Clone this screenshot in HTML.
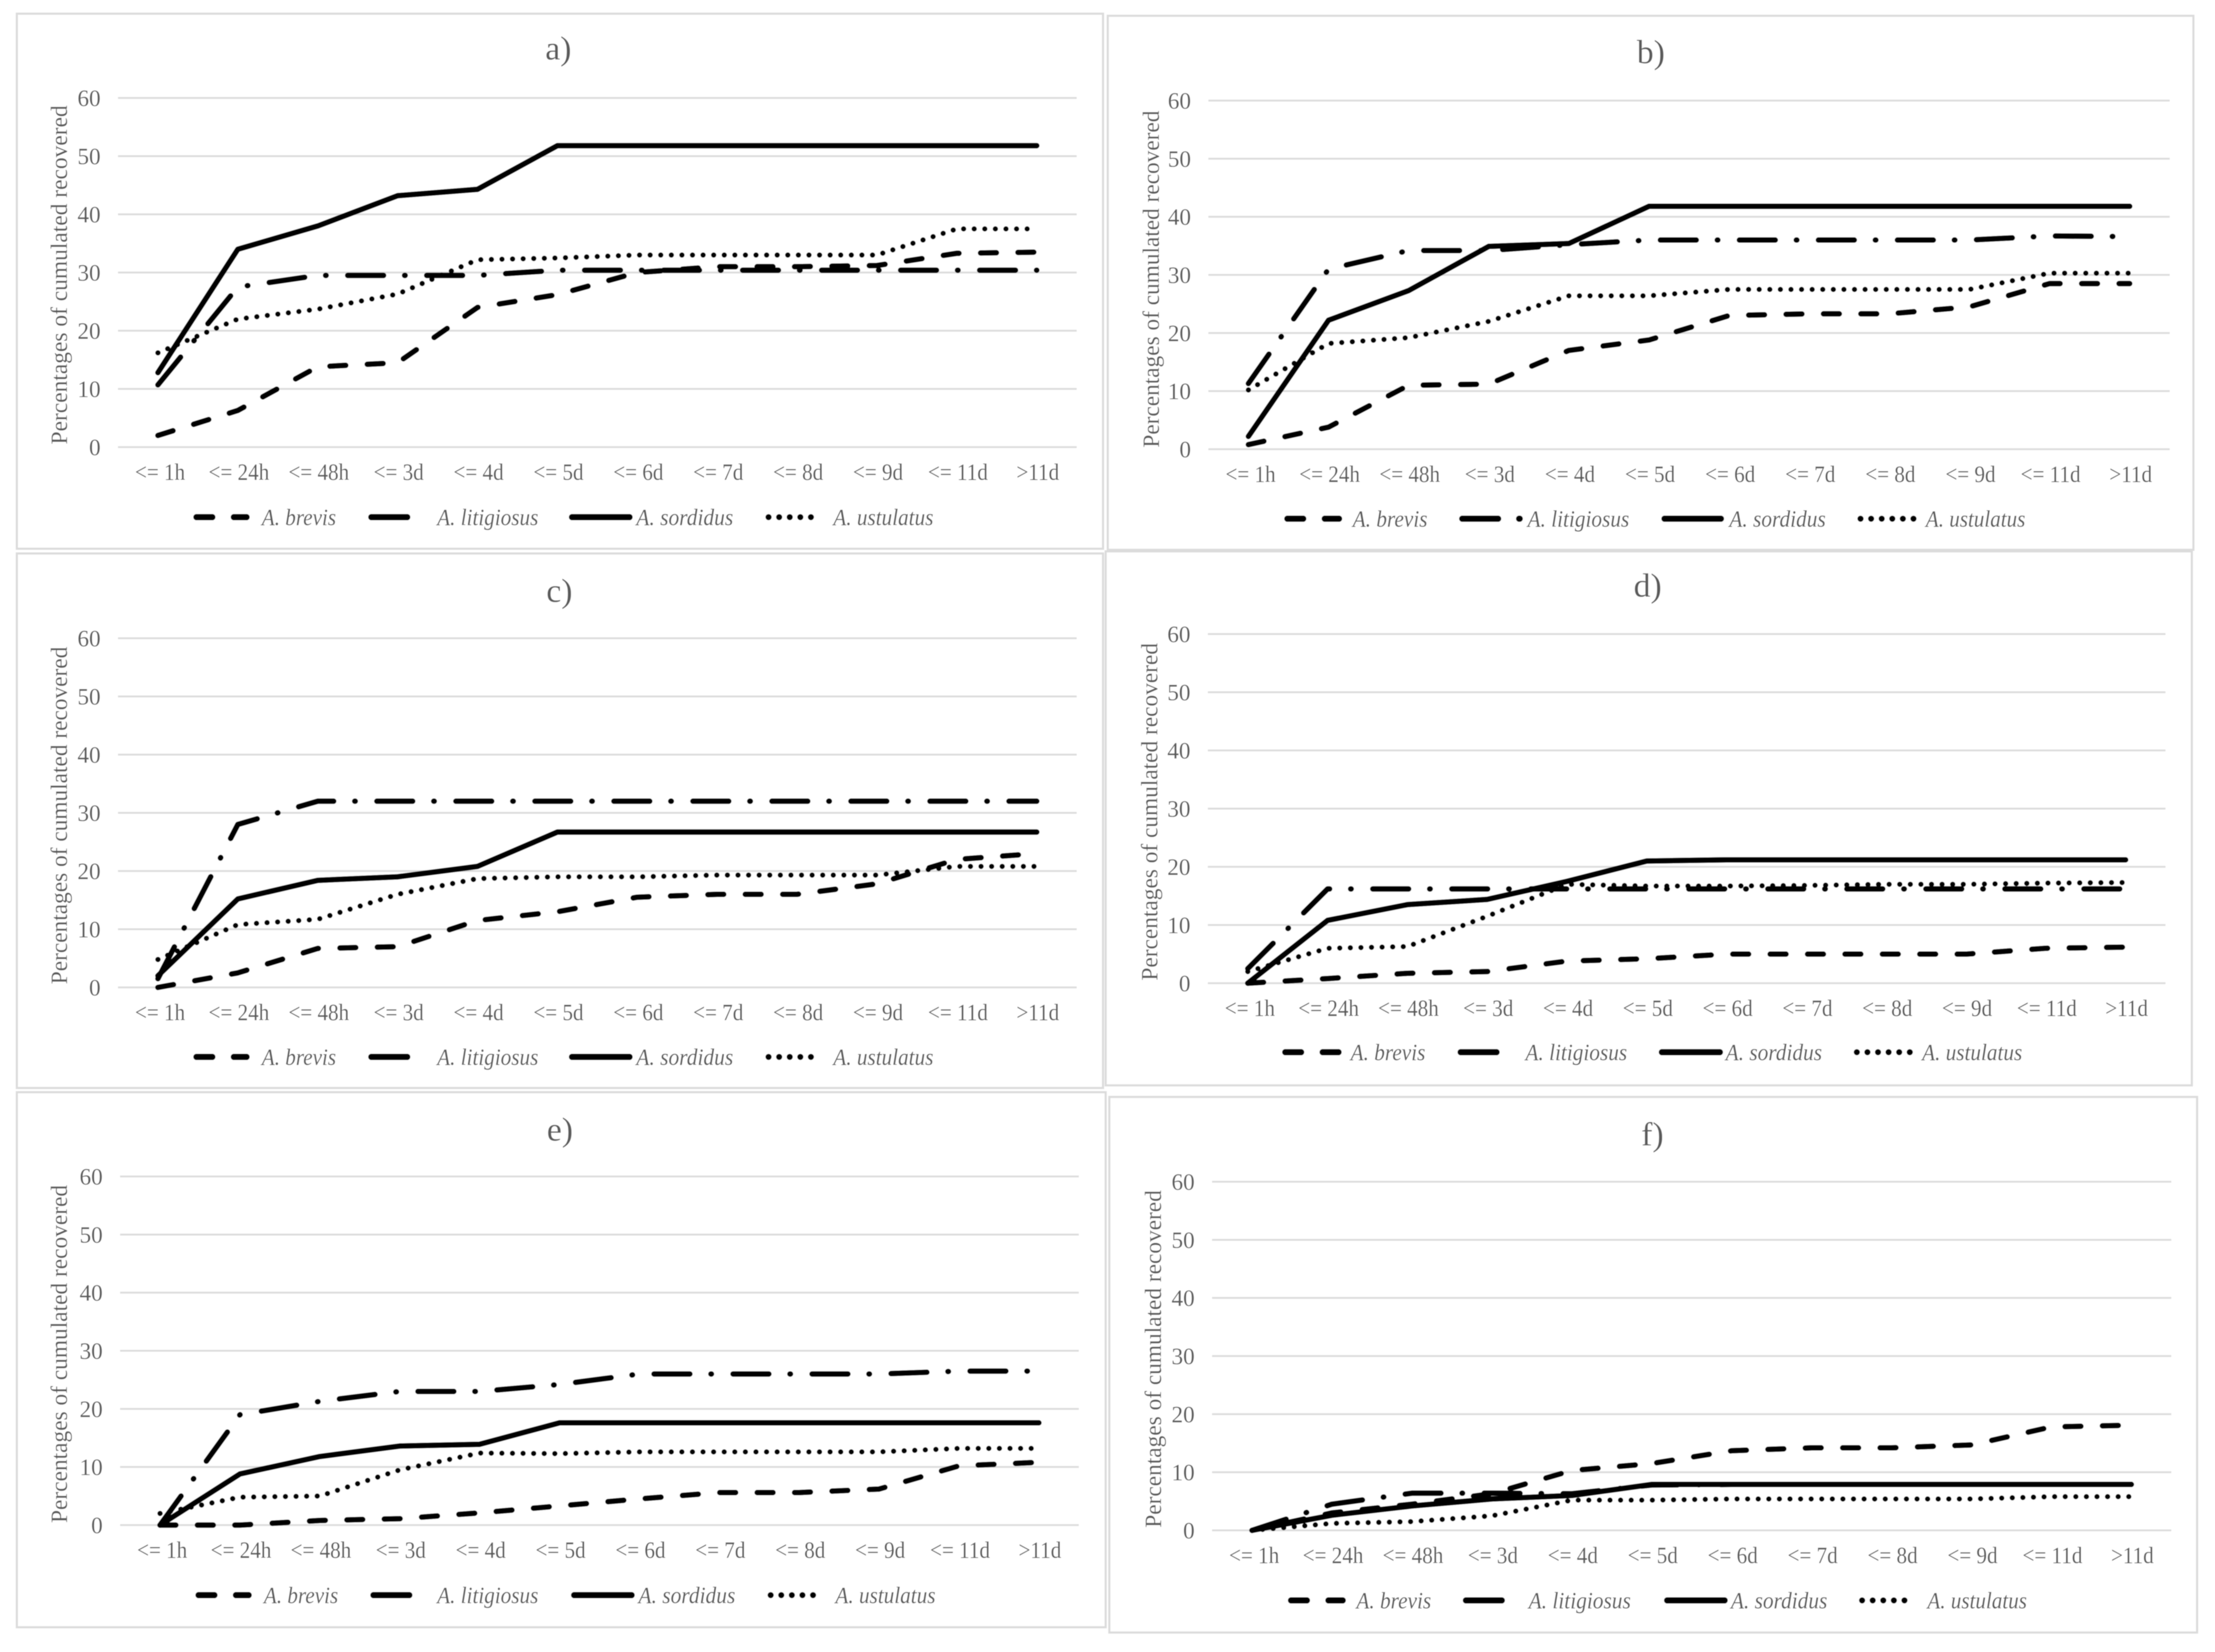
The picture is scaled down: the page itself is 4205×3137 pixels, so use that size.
<!DOCTYPE html>
<html lang="en">
<head>
<meta charset="utf-8">
<title>Percentages of cumulated recovered, panels a to f</title>
<style>
html,body{margin:0;padding:0;background:#fff}
svg{display:block}
text{font-family:"Liberation Serif",serif;fill:#5a5a5a}
</style>
</head>
<body>
<svg id="figure" xmlns="http://www.w3.org/2000/svg" width="4205" height="3137" viewBox="0 0 4205 3137">
<defs><filter id="soft" x="-2%" y="-2%" width="104%" height="104%"><feGaussianBlur stdDeviation="0.8"/></filter></defs>
<rect x="0" y="0" width="4205" height="3137" fill="#fff"/>
</svg>
<script>
// ---- shared chart values ----
const categories = ['<= 1h','<= 24h','<= 48h','<= 3d','<= 4d','<= 5d','<= 6d','<= 7d','<= 8d','<= 9d','<= 11d','>11d'];
const yTicks = [0,10,20,30,40,50,60];
const yAxisTitle = 'Percentages of cumulated recovered';
const speciesNames = ['A. brevis','A. litigiosus','A. sordidus','A. ustulatus'];

// ---- panel a ----
const aBrevis     = [2,6.3,13.8,14.5,24,26.2,30,31,31,31.2,33.3,33.5];
const aLitigiosus = [10.7,27.5,29.5,29.5,29.5,30.4,30.4,30.4,30.4,30.4,30.4,30.4];
const aSordidus   = [12.8,34,38,43.2,44.3,51.8,51.8,51.8,51.8,51.8,51.8,51.8];
const aUstulatus  = [16.2,22,23.7,26.3,32.2,32.5,33,33,33,33,37.5,37.5];
// ---- panel b ----
const bBrevis     = [0.8,3.8,11,11.2,17,18.8,23,23.3,23.3,24.5,28.5,28.5];
const bLitigiosus = [11.3,31,34.2,34.2,35.2,36,36,36,36,36,36.7,36.6];
const bSordidus   = [2.2,22.2,27.3,34.9,35.4,41.8,41.8,41.8,41.8,41.8,41.8,41.8];
const bUstulatus  = [10.2,18.2,19.2,22,26.4,26.4,27.5,27.5,27.5,27.5,30.3,30.3];
// ---- panel c ----
const cBrevis     = [0,2.5,6.7,7,11.5,13,15.5,16,16,17.8,22,23];
const cLitigiosus = [1.5,28,32,32,32,32,32,32,32,32,32,32];
const cSordidus   = [2,15.2,18.4,19,20.8,26.7,26.7,26.7,26.7,26.7,26.7,26.7];
const cUstulatus  = [4.8,10.8,11.7,16,18.7,19,19,19.3,19.3,19.3,20.8,20.8];
// ---- panel d ----
const dBrevis     = [0,0.8,1.7,2,3.8,4.2,5,5,5,5,6,6.2];
const dLitigiosus = [2.5,16.2,16.2,16.2,16.2,16.2,16.2,16.2,16.2,16.2,16.2,16.2];
const dSordidus   = [0,10.8,13.5,14.4,17.5,21,21.2,21.2,21.2,21.2,21.2,21.2];
const dUstulatus  = [2,6,6.3,11.5,17,16.7,16.7,16.8,17,17,17.2,17.3];
// ---- panel e ----
const eBrevis     = [0,0,0.8,1.1,2.1,3.3,4.5,5.6,5.6,6.2,10.2,10.8];
const eLitigiosus = [0,19,21.3,23,23,24.2,26,26,26,26,26.5,26.5];
const eSordidus   = [0,8.8,11.8,13.6,13.9,17.6,17.6,17.6,17.6,17.6,17.6,17.6];
const eUstulatus  = [2,4.8,5,9.5,12.4,12.3,12.6,12.6,12.6,12.6,13.2,13.2];
// ---- panel f ----
const fBrevis     = [0,3,4.5,6.3,10.3,11.5,13.7,14.2,14.2,14.7,17.8,18.1];
const fLitigiosus = [0,4.5,6.4,6.4,6.3,7.8,7.9,7.9,7.9,7.9,7.9,7.9];
const fSordidus   = [0,2.6,4.2,5.4,6,7.9,7.9,7.9,7.9,7.9,7.9,7.9];
const fUstulatus  = [0,1.2,1.5,2.5,5.2,5.2,5.4,5.4,5.4,5.4,5.8,5.8];

const panelLabels = ['a)','b)','c)','d)','e)','f)'];
const panelValues = [
  [aBrevis,aLitigiosus,aSordidus,aUstulatus],
  [bBrevis,bLitigiosus,bSordidus,bUstulatus],
  [cBrevis,cLitigiosus,cSordidus,cUstulatus],
  [dBrevis,dLitigiosus,dSordidus,dUstulatus],
  [eBrevis,eLitigiosus,eSordidus,eUstulatus],
  [fBrevis,fLitigiosus,fSordidus,fUstulatus]
];

// ---- layout (separate from data) ----
const frames = [
  {l:32,  r:2094,t:26,  b:1042,gx0:224, gx1:2044,y60:186, y0:849, tx:1060,ty:113, ax:127, ay0:200, ay1:844, leg:982},
  {l:2103,r:4164,t:30,  b:1044,gx0:2294,gx1:4119,y60:191, y0:853, tx:3134,ty:120, ax:2200,ay0:210, ay1:850, leg:985},
  {l:32,  r:2094,t:1051,b:2066,gx0:224, gx1:2044,y60:1212,y0:1875,tx:1062,ty:1143,ax:127, ay0:1228,ay1:1869,leg:2007},
  {l:2099,r:4161,t:1047,b:2061,gx0:2293,gx1:4111,y60:1204,y0:1867,tx:3128,ty:1133,ax:2197,ay0:1221,ay1:1862,leg:1998},
  {l:32,  r:2099,t:2074,b:3090,gx0:228, gx1:2048,y60:2234,y0:2896,tx:1063,ty:2166,ax:127, ay0:2250,ay1:2892,leg:3029},
  {l:2106,r:4171,t:2083,b:3100,gx0:2301,gx1:4122,y60:2244,y0:2906,tx:3137,ty:2175,ax:2204,ay0:2260,ay1:2901,leg:3039}
];
const legendLayouts = [
  [[368,473,497,141],[700,816,830,192],[1081,1200,1208,184],[1454,1564,1582,190]],
  [[2439,2547,2568,142],[2771,2890,2900,193],[3155,3272,3283,183],[3527,3638,3656,189]],
  [[368,473,497,141],[700,782,830,192],[1081,1200,1208,184],[1454,1564,1582,190]],
  [[2435,2547,2564,142],[2768,2850,2896,193],[3150,3270,3276,183],[3520,3631,3649,190]],
  [[372,477,501,141],[704,786,830,192],[1085,1204,1212,184],[1458,1568,1586,190]],
  [[2446,2554,2575,142],[2778,2859,2902,194],[3160,3279,3286,183],[3530,3638,3659,189]]
];
const seriesStyles = [
  {w:10.5,dash:'30 41',cap:'round',key:'brevis'},
  {w:10.5,dash:'68 40 1 41',cap:'round',key:'litigiosus'},
  {w:10.5,dash:'',cap:'round',key:'sordidus'},
  {w:10,dash:'0.1 20',cap:'round',key:'ustulatus'}
];

const NS = 'http://www.w3.org/2000/svg';
const svg = document.getElementById('figure');
function make(tag, parent, attrs){
  const el = document.createElementNS(NS, tag);
  for (const k in attrs) el.setAttribute(k, attrs[k]);
  parent.appendChild(el);
  return el;
}

const root = make('g', svg, {filter:'url(#soft)'});



frames.forEach(function(f, p){
  const values = panelValues[p];
  const band = (f.gx1 - f.gx0) / categories.length;
  const xScale = function(i){ return f.gx0 + (i + 0.5) * band; };
  const yScale = function(v){ return f.y0 - (v / 60) * (f.y0 - f.y60); };
  const letter = panelLabels[p].charAt(0);

  const g = make('g', root, {});
  
  

  const frame = make('rect', g, {x:f.l,y:f.t,width:f.r-f.l,height:f.b-f.t,fill:'#fff',stroke:'#dcdcdc','stroke-width':4});
  
  

  const title = make('text', g, {x:f.tx,y:f.ty,'text-anchor':'middle','font-size':64});
  
  
  title.textContent = panelLabels[p];

  yTicks.forEach(function(t){
    const y = yScale(t);
    const grid = make('line', g, {x1:f.gx0,x2:f.gx1,y1:y,y2:y,stroke:'#dcdcdc','stroke-width':3.5});
    
    
    const lab = make('text', g, {x:f.gx0-33,y:y+15,'text-anchor':'end','font-size':44});
    
    
    lab.textContent = String(t);
  });

  categories.forEach(function(c, i){
    const cx = xScale(i) + (i === 0 ? 4 : 2);
    const lab = make('text', g, {'text-anchor':'middle','font-size':44,transform:'translate(' + cx + ',' + (f.y0 + 62) + ') scale(0.91,1)'});
    
    
    lab.textContent = c;
  });

  const ay = (f.ay0 + f.ay1) / 2;
  const axisTitle = make('text', g, {'text-anchor':'middle','font-size':44,textLength:f.ay1-f.ay0,lengthAdjust:'spacingAndGlyphs',transform:'translate(' + f.ax + ',' + ay + ') rotate(-90)'});
  
  
  axisTitle.textContent = yAxisTitle;

  seriesStyles.forEach(function(s, k){
    const pts = values[k].map(function(v, i){ return xScale(i).toFixed(1) + ',' + yScale(v).toFixed(1); }).join(' ');
    const line = make('polyline', g, {points:pts,fill:'none',stroke:'#000','stroke-width':s.w,'stroke-linecap':s.cap,'stroke-linejoin':'round'});
    if (s.dash) line.setAttribute('stroke-dasharray', s.dash);
    
    

    const L = legendLayouts[p][k];
    const entry = make('g', g, {});
    
    
    const swatch = make('line', entry, {x1:L[0]+5,x2:L[1]-5,y1:f.leg,y2:f.leg,stroke:'#000','stroke-width':s.w+1.5,'stroke-linecap':s.cap});
    if (s.dash) swatch.setAttribute('stroke-dasharray', s.dash);
    
    
    const txt = make('text', entry, {x:L[2],y:f.leg+15,'font-size':44,'font-style':'italic',textLength:L[3],lengthAdjust:'spacingAndGlyphs'});
    
    
    txt.textContent = speciesNames[k];
  });
});
</script>
</body>
</html>
